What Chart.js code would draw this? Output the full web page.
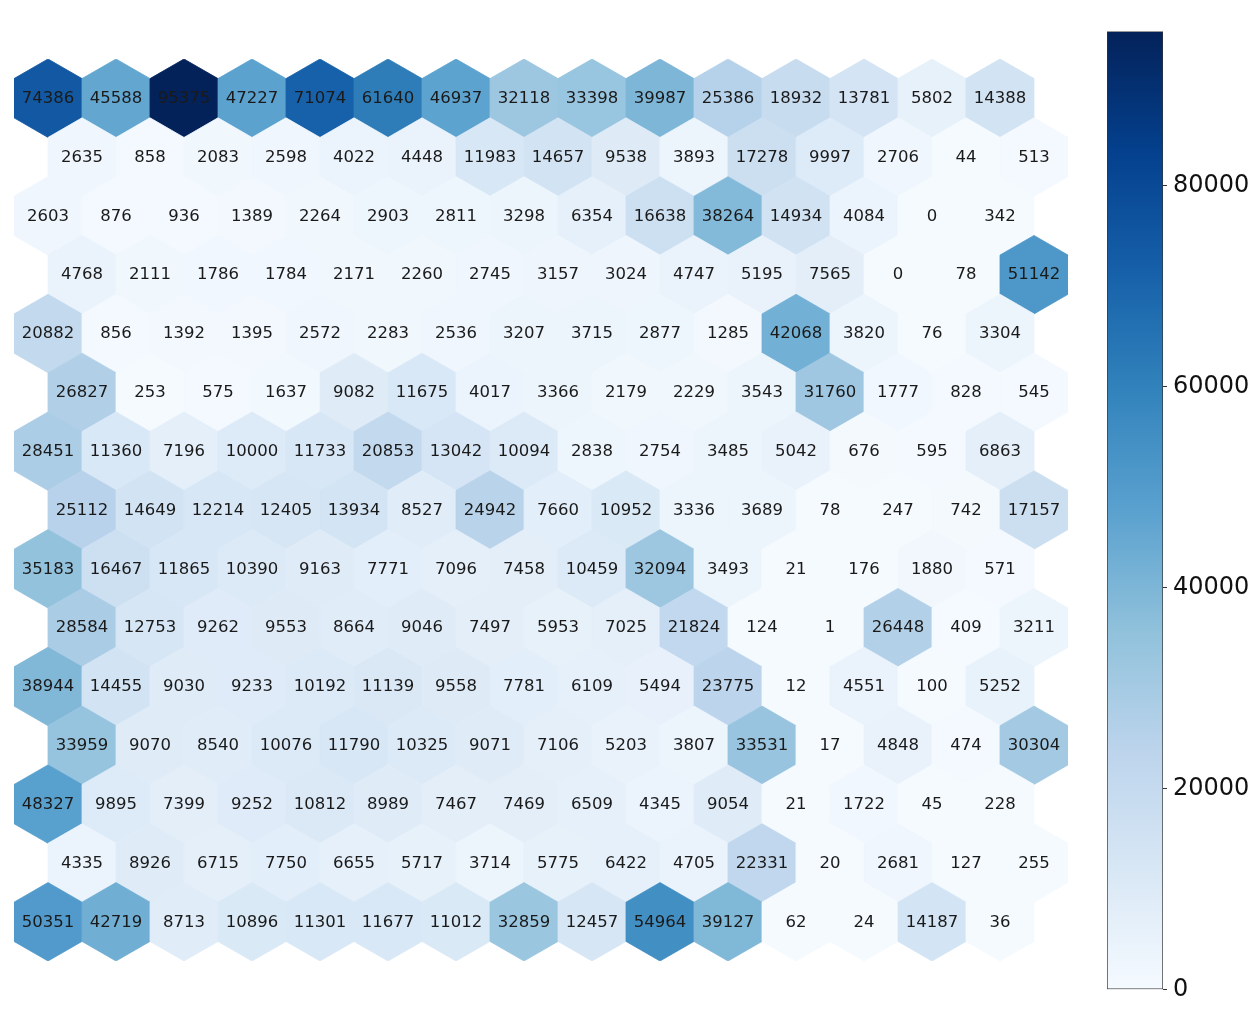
<!DOCTYPE html>
<html>
<head>
<meta charset="utf-8">
<script src="https://cdn.jsdelivr.net/npm/chart.js@4/dist/chart.umd.min.js"></script>
<style>
  html, body { margin: 0; padding: 0; background: #fff; overflow: hidden; }
  body { width: 1252px; height: 1017px; position: relative; }
  #hexWrap { position: absolute; left: 14px; top: 58.7px; }
  #cbarWrap { position: absolute; left: 1107px; top: 11px; }
</style>
</head>
<body>
<div id="hexWrap"><canvas id="hexChart" width="1054" height="902"></canvas></div>
<div id="cbarWrap"><canvas id="cbarChart" width="146" height="999"></canvas></div>
<script>
// hit counts per row of the hex grid (odd rows are shifted half a cell right)
const row00 = [74386, 45588, 95375, 47227, 71074, 61640, 46937, 32118, 33398, 39987, 25386, 18932, 13781, 5802, 14388];
const row01 = [2635, 858, 2083, 2598, 4022, 4448, 11983, 14657, 9538, 3893, 17278, 9997, 2706, 44, 513];
const row02 = [2603, 876, 936, 1389, 2264, 2903, 2811, 3298, 6354, 16638, 38264, 14934, 4084, 0, 342];
const row03 = [4768, 2111, 1786, 1784, 2171, 2260, 2745, 3157, 3024, 4747, 5195, 7565, 0, 78, 51142];
const row04 = [20882, 856, 1392, 1395, 2572, 2283, 2536, 3207, 3715, 2877, 1285, 42068, 3820, 76, 3304];
const row05 = [26827, 253, 575, 1637, 9082, 11675, 4017, 3366, 2179, 2229, 3543, 31760, 1777, 828, 545];
const row06 = [28451, 11360, 7196, 10000, 11733, 20853, 13042, 10094, 2838, 2754, 3485, 5042, 676, 595, 6863];
const row07 = [25112, 14649, 12214, 12405, 13934, 8527, 24942, 7660, 10952, 3336, 3689, 78, 247, 742, 17157];
const row08 = [35183, 16467, 11865, 10390, 9163, 7771, 7096, 7458, 10459, 32094, 3493, 21, 176, 1880, 571];
const row09 = [28584, 12753, 9262, 9553, 8664, 9046, 7497, 5953, 7025, 21824, 124, 1, 26448, 409, 3211];
const row10 = [38944, 14455, 9030, 9233, 10192, 11139, 9558, 7781, 6109, 5494, 23775, 12, 4551, 100, 5252];
const row11 = [33959, 9070, 8540, 10076, 11790, 10325, 9071, 7106, 5203, 3807, 33531, 17, 4848, 474, 30304];
const row12 = [48327, 9895, 7399, 9252, 10812, 8989, 7467, 7469, 6509, 4345, 9054, 21, 1722, 45, 228];
const row13 = [4335, 8926, 6715, 7750, 6655, 5717, 3714, 5775, 6422, 4705, 22331, 20, 2681, 127, 255];
const row14 = [50351, 42719, 8713, 10896, 11301, 11677, 11012, 32859, 12457, 54964, 39127, 62, 24, 14187, 36];
const gridRows = [row00, row01, row02, row03, row04, row05, row06, row07, row08, row09, row10, row11, row12, row13, row14];

const cbarTicks = [0, 20000, 40000, 60000, 80000];
const cbarMin = 0;
const cbarMax = 95375;

// matplotlib "Blues", darkened a bit (gamma) to match the screenshot's colour profile
const bluesBase = ['#f7fbff', '#deebf7', '#c6dbef', '#9ecae1', '#6baed6', '#4292c6', '#2171b5', '#08519c', '#08306b'];
const GAMMA = 1.2;

function hexToRgb(h) {
  return [parseInt(h.slice(1, 3), 16), parseInt(h.slice(3, 5), 16), parseInt(h.slice(5, 7), 16)];
}
const blues = bluesBase.map(function (h) {
  return hexToRgb(h).map(function (c) { return 255 * Math.pow(c / 255, GAMMA); });
});
function rgbStr(c) {
  return 'rgb(' + Math.round(c[0]) + ',' + Math.round(c[1]) + ',' + Math.round(c[2]) + ')';
}
function bluesColor(v) {
  let t = (v - cbarMin) / (cbarMax - cbarMin);
  t = Math.max(0, Math.min(1, t));
  const pos = t * (blues.length - 1);
  const i = Math.min(Math.floor(pos), blues.length - 2);
  const f = pos - i;
  const a = blues[i], b = blues[i + 1];
  return rgbStr(a.map((x, k) => x + (b[k] - x) * f));
}

// one point per cell, x shifted by 0.5 on odd rows
const cells = [];
gridRows.forEach(function (row, r) {
  row.forEach(function (v, c) {
    cells.push({ x: c + (r % 2 ? 0.5 : 0), y: r, v: v });
  });
});

const hexPlugin = {
  id: 'hexCells',
  beforeDatasetsDraw(chart) {
    const ctx = chart.ctx;
    const xs = chart.scales.x, ys = chart.scales.y;
    const pts = chart.data.datasets[0].data;
    const corners = [[0, -2 / 3], [0.5, -1 / 3], [0.5, 1 / 3], [0, 2 / 3], [-0.5, 1 / 3], [-0.5, -1 / 3]];
    ctx.save();
    pts.forEach(function (p) {
      const col = bluesColor(p.v);
      ctx.beginPath();
      corners.forEach(function (d, i) {
        const px = xs.getPixelForValue(p.x + d[0]);
        const py = ys.getPixelForValue(p.y + d[1]);
        if (i === 0) ctx.moveTo(px, py); else ctx.lineTo(px, py);
      });
      ctx.closePath();
      ctx.fillStyle = col;
      ctx.fill();
      ctx.strokeStyle = col;
      ctx.lineWidth = 0.8;
      ctx.stroke();
    });
    ctx.fillStyle = '#1a1a1a';
    ctx.font = '16.5px "DejaVu Sans"';
    ctx.textAlign = 'center';
    ctx.textBaseline = 'middle';
    pts.forEach(function (p) {
      ctx.fillText(String(p.v), xs.getPixelForValue(p.x), ys.getPixelForValue(p.y) + 0.5);
    });
    ctx.restore();
  }
};

new Chart(document.getElementById('hexChart'), {
  type: 'scatter',
  data: {
    datasets: [{
      data: cells,
      pointRadius: 0,
      pointHoverRadius: 0
    }]
  },
  options: {
    responsive: false,
    animation: false,
    events: [],
    layout: { padding: 0 },
    plugins: { legend: { display: false }, tooltip: { enabled: false } },
    scales: {
      x: { type: 'linear', display: false, min: -0.5, max: 15 },
      y: { type: 'linear', display: false, min: -2 / 3, max: 14 + 2 / 3, reverse: true }
    }
  },
  plugins: [hexPlugin]
});

// colour bar
new Chart(document.getElementById('cbarChart'), {
  type: 'bar',
  data: {
    labels: [''],
    datasets: [{
      data: [[cbarMin, cbarMax]],
      backgroundColor: function (context) {
        const area = context.chart.chartArea;
        if (!area) return rgbStr(blues[4]);
        const g = context.chart.ctx.createLinearGradient(0, area.bottom, 0, area.top);
        blues.forEach(function (c, i) { g.addColorStop(i / (blues.length - 1), rgbStr(c)); });
        return g;
      },
      borderColor: '#333333',
      borderWidth: 1,
      borderSkipped: false,
      barPercentage: 1,
      categoryPercentage: 1
    }]
  },
  options: {
    responsive: false,
    animation: false,
    events: [],
    layout: { padding: { top: 20, bottom: 20, left: 0, right: 0 } },
    plugins: { legend: { display: false }, tooltip: { enabled: false } },
    scales: {
      x: { display: false },
      y: {
        position: 'right',
        min: cbarMin,
        max: cbarMax,
        afterBuildTicks: function (scale) {
          scale.ticks = cbarTicks.map(function (v) { return { value: v }; });
        },
        afterFit: function (scale) { scale.width = 90; },
        border: { display: false },
        grid: { drawOnChartArea: false, tickLength: 4, color: '#333333', lineWidth: 1 },
        ticks: {
          color: '#111111',
          padding: 6,
          font: { family: 'DejaVu Sans', size: 24 },
          callback: function (v) { return String(v); }
        }
      }
    }
  }
});
</script>
</body>
</html>
